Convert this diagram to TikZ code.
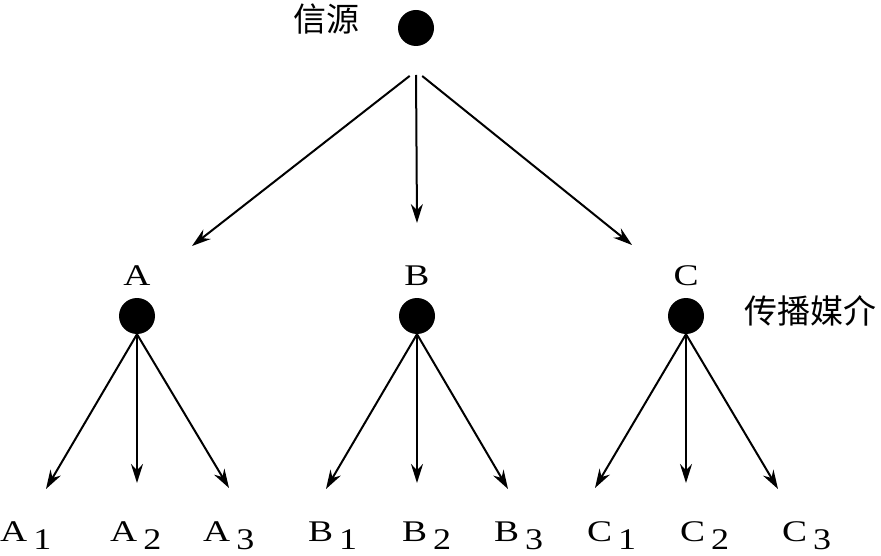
\documentclass[tikz,border=0pt]{standalone}
\usepackage{fontspec}
\setmainfont{Liberation Serif}
\newfontfamily\cjk{Noto Sans CJK SC}
\usetikzlibrary{arrows.meta,positioning}
\newcommand{\sublbl}[2]{\scalebox{1.25}[1]{#1}\hspace{6pt}\raisebox{-8pt}{\scalebox{1.2}[1]{#2}}}

\begin{document}
\begin{tikzpicture}[x=1pt,y=-1pt,
    dot/.style={circle,fill=black,inner sep=0pt,minimum size=36pt},
    arr/.style={-{Stealth[length=19pt,width=12pt]},line width=2pt},
    letterlbl/.style={inner sep=0pt,font=\fontsize{30}{36}\selectfont},
    leaf/.style={letterlbl,anchor=base west},
    zh/.style={inner sep=0pt,font=\cjk\fontsize{33}{40}\selectfont}]
    \useasboundingbox (0,0) rectangle (881,556);
    % source
    \node[dot] (src) at (416,28) {};
    \node[zh] (srcname) at (326,19) {信源};
    \coordinate (fork) at (416,71);
    % media
    \node[dot] (A) at (137,316) {};
    \node[dot] (B) at (417,316) {};
    \node[dot] (C) at (686,316) {};
    \node[letterlbl,above=12pt of A] (Aname) {\scalebox{1.25}[1]{A}};
    \node[letterlbl,above=12pt of B] (Bname) {\scalebox{1.25}[1]{B}};
    \node[letterlbl,above=12pt of C] (Cname) {\scalebox{1.25}[1]{C}};
    \node[zh] (medname) at (810,311) {传播媒介};
    \coordinate (tA) at (192,246);
    \coordinate (tB) at (417,223);
    \coordinate (tC) at (632,245);
    \draw [arr,shorten <=8pt] (fork)--(tA);
    \draw [arr,shorten <=4pt] (fork)--(tB);
    \draw [arr,shorten <=8pt] (fork)--(tC);
    % receivers
    \node[leaf] (A1) at (0,541) {\sublbl{A}{1}};
    \node[leaf] (A2) at (110,541) {\sublbl{A}{2}};
    \node[leaf] (A3) at (203,541) {\sublbl{A}{3}};
    \node[leaf] (B1) at (308,541) {\sublbl{B}{1}};
    \node[leaf] (B2) at (402,541) {\sublbl{B}{2}};
    \node[leaf] (B3) at (494,541) {\sublbl{B}{3}};
    \node[leaf] (C1) at (587,541) {\sublbl{C}{1}};
    \node[leaf] (C2) at (680,541) {\sublbl{C}{2}};
    \node[leaf] (C3) at (782,541) {\sublbl{C}{3}};
    \coordinate (a1) at (46,489);
    \coordinate (a2) at (137,483);
    \coordinate (a3) at (229,488);
    \coordinate (b1) at (326,489);
    \coordinate (b2) at (417,483);
    \coordinate (b3) at (508,489);
    \coordinate (c1) at (595,488);
    \coordinate (c2) at (686,483);
    \coordinate (c3) at (778,489);
    \draw [arr] (A.south)--(a1);
    \draw [arr] (A.south)--(a2);
    \draw [arr] (A.south)--(a3);
    \draw [arr] (B.south)--(b1);
    \draw [arr] (B.south)--(b2);
    \draw [arr] (B.south)--(b3);
    \draw [arr] (C.south)--(c1);
    \draw [arr] (C.south)--(c2);
    \draw [arr] (C.south)--(c3);
\end{tikzpicture}
\end{document}
